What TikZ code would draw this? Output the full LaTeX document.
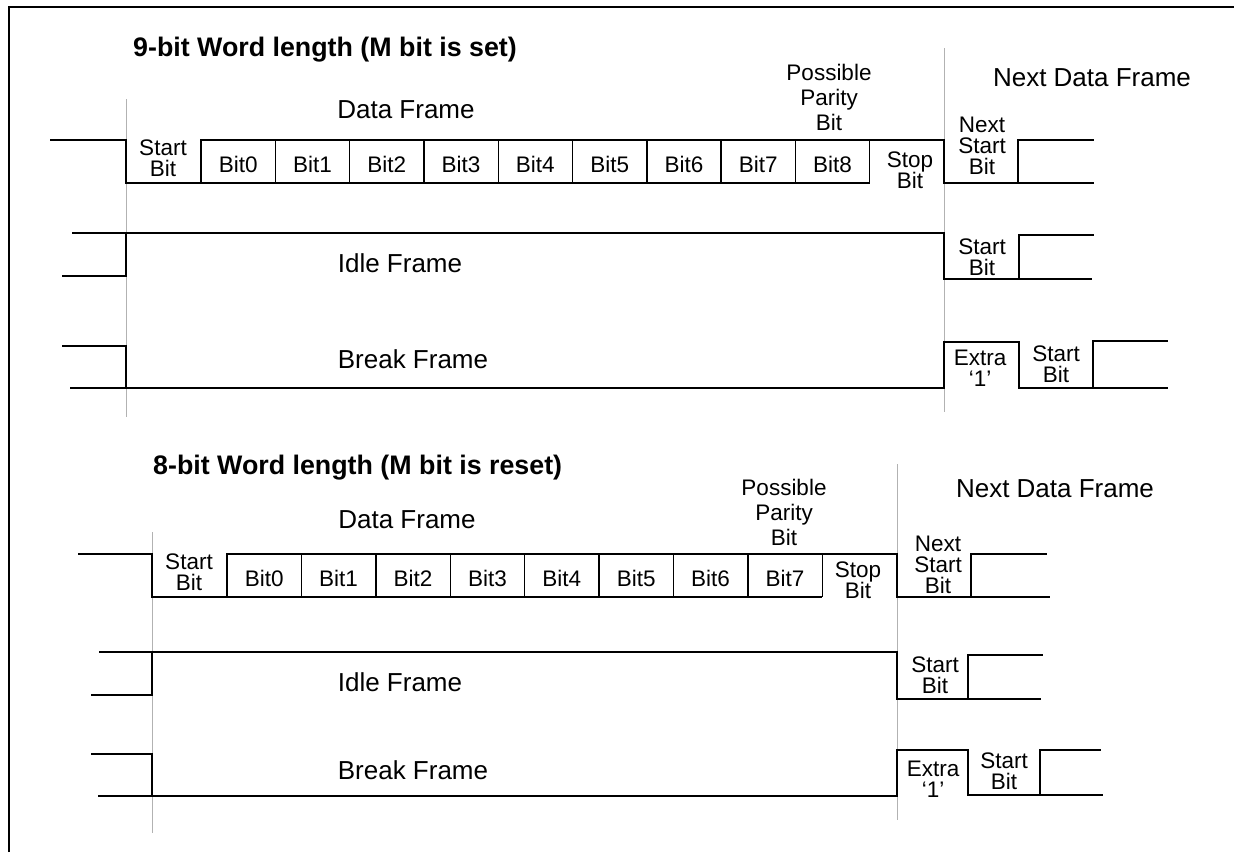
\documentclass[tikz,border=0pt]{standalone}
\usepackage{fontspec}
\setmainfont{Liberation Sans}
\begin{document}
\begin{tikzpicture}[x=1pt, y=-1pt,
  wave/.style={line width=1.4pt},
  guide/.style={line width=1pt, draw=black!30},
  big/.style={inner sep=0pt, font=\fontsize{26}{28}\selectfont},
  small/.style={inner sep=0pt, align=center, font=\fontsize{22.5}{21}\selectfont},
  parity/.style={inner sep=0pt, align=center, font=\fontsize{22.5}{25}\selectfont},
  heading/.style={inner sep=0pt, anchor=west, font=\fontsize{26.8}{28}\selectfont\bfseries}]
\useasboundingbox (0,0) rectangle (1234,852);
\draw[line width=2pt] (9,852) -- (9,7) -- (1234,7);

% 9-bit word
\node[heading] (title9) at (133,50) {9-bit Word length (M bit is set)};
\draw[guide] (126,99) -- (126,417);
\draw[guide] (944,48) -- (944,412);
\node[big] (data9) at (406,110) {Data Frame};
\node[parity] (parity9) at (829,97) {Possible\\Parity\\Bit};
\node[big] (nextdata9) at (1092,78) {Next Data Frame};
\draw[wave] (50,140) -- (126,140) -- (126,183) -- (870,183);
\draw[wave] (201,183) -- (201,140) -- (944,140) -- (944,183) -- (1094,183);
\draw[wave] (1018,183) -- (1018,140) -- (1094,140);
\foreach \i in {1,...,9}
  \draw[wave] ({201+74.3*\i},140) -- ++(0,43);
\foreach \i in {0,...,8}
  \node[small] (b9-\i) at ({238.15+74.3*\i},164) {Bit\i};
\node[small] (start9) at (163,158) {Start\\Bit};
\node[small] (stop9) at (910,170) {Stop\\Bit};
\node[small] (nextstart9) at (982,146) {Next\\Start\\Bit};

\draw[wave] (62,276) -- (126,276) -- (126,233);
\draw[wave] (72,233) -- (944,233) -- (944,279) -- (1092,279);
\draw[wave] (1019,279) -- (1019,235) -- (1094,235);
\node[big] (idle9) at (400,263) {Idle Frame};
\node[small] (idlestart9) at (982,257) {Start\\Bit};

\draw[wave] (62,346) -- (126,346) -- (126,388);
\draw[wave] (70,388) -- (944,388) -- (944,342) -- (1019,342) -- (1019,388) -- (1168,388);
\draw[wave] (1093,388) -- (1093,341) -- (1168,341);
\node[big] (break9) at (413,359) {Break Frame};
\node[small] (extra9) at (980,368) {Extra\\‘1’};
\node[small] (breakstart9) at (1056,364) {Start\\Bit};

% 8-bit word
\node[heading] (title8) at (153,468) {8-bit Word length (M bit is reset)};
\draw[guide] (152,532) -- (152,833);
\draw[guide] (897,464) -- (897,820);
\node[big] (data8) at (407,520) {Data Frame};
\node[parity] (parity8) at (784,512) {Possible\\Parity\\Bit};
\node[big] (nextdata8) at (1055,489) {Next Data Frame};
\draw[wave] (78,554) -- (152,554) -- (152,597) -- (822,597);
\draw[wave] (227,597) -- (227,554) -- (897,554) -- (897,597) -- (1050,597);
\draw[wave] (971,597) -- (971,554) -- (1047,554);
\foreach \i in {1,...,8}
  \draw[wave] ({227+74.4*\i},554) -- ++(0,43);
\foreach \i in {0,...,7}
  \node[small] (b8-\i) at ({264.2+74.4*\i},578) {Bit\i};
\node[small] (start8) at (189,572) {Start\\Bit};
\node[small] (stop8) at (858,580) {Stop\\Bit};
\node[small] (nextstart8) at (938,565) {Next\\Start\\Bit};

\draw[wave] (91,695) -- (152,695) -- (152,652);
\draw[wave] (99,652) -- (897,652) -- (897,699) -- (1041,699);
\draw[wave] (968,699) -- (968,655) -- (1043,655);
\node[big] (idle8) at (400,682) {Idle Frame};
\node[small] (idlestart8) at (935,675) {Start\\Bit};

\draw[wave] (91,754) -- (152,754) -- (152,796);
\draw[wave] (98,796) -- (897,796) -- (897,750) -- (968,750) -- (968,795) -- (1103,795);
\draw[wave] (1040,795) -- (1040,750) -- (1101,750);
\node[big] (break8) at (413,770) {Break Frame};
\node[small] (extra8) at (933,779) {Extra\\‘1’};
\node[small] (breakstart8) at (1004,771) {Start\\Bit};
\end{tikzpicture}
\end{document}
